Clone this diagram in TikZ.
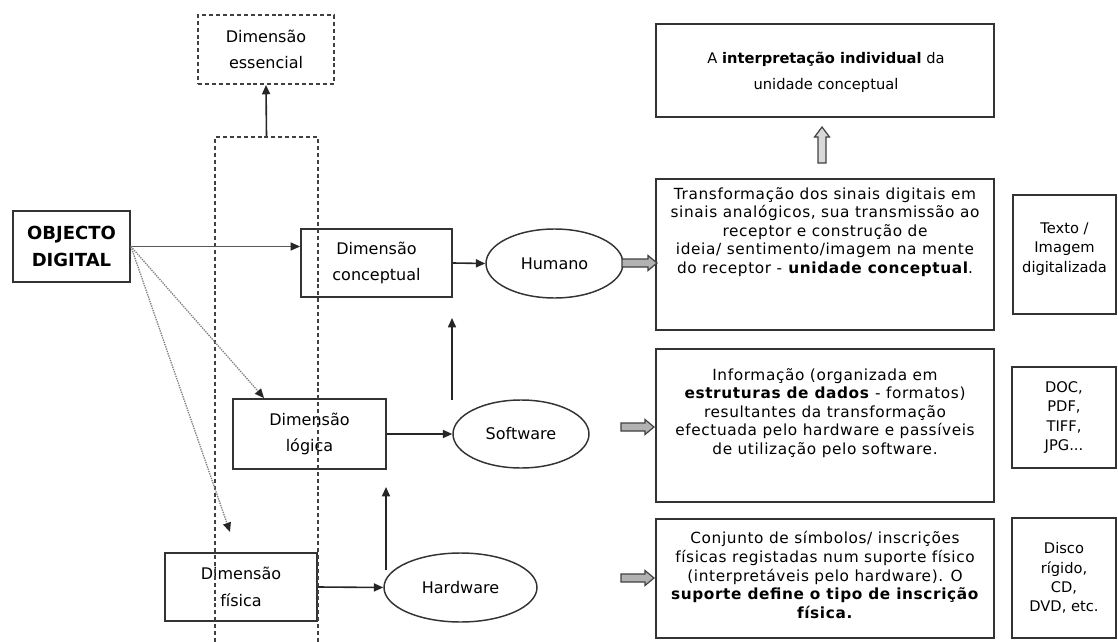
\documentclass[tikz,border=0pt]{standalone}
\usepackage{fontspec}
\setmainfont{DejaVu Sans}
\newfontfamily\descfont[LetterSpace=4]{DejaVu Sans}
\usetikzlibrary{arrows.meta,calc,shapes.geometric}
\begin{document}
\begin{tikzpicture}[x=0.75pt,y=-0.75pt,
  every node/.style={inner sep=0pt, text=black},
  lbl/.style={font=\fontsize{12}{20}\selectfont, align=center},
  box/.style={draw=black!80, line width=1.4pt, rectangle, align=center},
  dbox/.style={draw=black!75, line width=1.4pt, rectangle, dash pattern=on 3pt off 2.2pt},
  oval/.style={draw=black!80, line width=1.1pt, ellipse, font=\fontsize{12}{14}\selectfont},
  desc/.style={font=\descfont\fontsize{11.5}{13.9}\selectfont, align=center},
  side/.style={font=\fontsize{11}{14.4}\selectfont, align=center},
  arr/.style={draw=black!85, line width=1.2pt, -{Triangle[length=7pt,width=6pt]}},
  thinarr/.style={draw=black!65, line width=0.7pt, -{Triangle[length=7pt,width=6pt,color=black!85,fill=black!85]}},
  dotarr/.style={draw=black!50, line width=1pt, dash pattern=on 1pt off 0.8pt, -{Triangle[length=7pt,width=6pt,color=black!85,fill=black!85]}},
  fat/.style={draw=black!75, fill=black!30, line width=0.9pt, line join=miter}
]
\useasboundingbox (0,0) rectangle (1118,642);
\clip (0,0) rectangle (1118,642);

% left part
\node[dbox, lbl, minimum width=102pt, minimum height=51.75pt] (ess) at (266,49.5) {Dimensão\\essencial};
\node[box, font=\bfseries\fontsize{13.5}{20}\selectfont, minimum width=87.75pt, minimum height=53.25pt] (obj) at (71.5,246.5) {OBJECTO\\DIGITAL};
\node[box, lbl, minimum width=113.25pt, minimum height=51pt] (conc) at (376.5,263) {Dimensão\\conceptual};
\node[box, lbl, minimum width=114.75pt, minimum height=52.5pt] (log) at (309.5,434) {Dimensão\\lógica};
\node[box, lbl, minimum width=114pt, minimum height=51pt] (fis) at (241,587) {Dimensão\\física};

\node[oval, minimum width=102.75pt, minimum height=51.75pt] (hum) at (554.5,263.5) {Humano};
\node[oval, minimum width=102pt, minimum height=51pt] (soft) at (521,434) {Software};
\node[oval, minimum width=114.75pt, minimum height=51.75pt] (hard) at (460.5,587.5) {Hardware};

% description boxes
\node[box, minimum width=253.5pt, minimum height=69.75pt] (top) at (825,70.5) {};
\node[font=\fontsize{11}{19.5}\selectfont, align=center] (topT) at (826,72) {A \textbf{interpretação individual} da\\unidade conceptual};

\node[box, minimum width=253.5pt, minimum height=113.25pt] (trans) at (825,254.5) {};
\node[desc] (transT) at (825,232) {Transformação dos sinais digitais em\\sinais analógicos, sua transmissão ao\\receptor e construção de\\ideia/ sentimento/imagem na mente\\do receptor - \textbf{unidade conceptual}.};

\node[box, minimum width=253.5pt, minimum height=114.75pt] (info) at (825,425.5) {};
\node[desc] (infoT) at (825,413) {Informação (organizada em\\\textbf{estruturas de dados} - formatos)\\resultantes da transformação\\efectuada pelo hardware e passíveis\\de utilização pelo  software.};

\node[box, minimum width=253.5pt, minimum height=89.25pt] (conj) at (825,578.5) {};
\node[desc] (conjT) at (825,575) {Conjunto de símbolos/ inscrições\\físicas registadas num suporte físico\\(interpretáveis pelo hardware). O\\\textbf{suporte define o tipo de inscrição}\\\textbf{física.}};

% side boxes
\node[box, side, minimum width=77.25pt, minimum height=89.25pt] (texto) at (1064.5,254.5) {};
\node[side] (textoT) at (1064.5,249) {Texto /\\Imagem\\digitalizada};
\node[box, side, minimum width=78pt, minimum height=75.75pt] (doc) at (1064,417.5) {DOC,\\PDF,\\TIFF,\\JPG...};
\node[box, side, minimum width=78pt, minimum height=90pt] (disco) at (1064,578) {Disco\\rígido,\\CD,\\DVD, etc.};

% tall dashed column
\node[dbox, anchor=north, minimum width=77.25pt, minimum height=390pt] (tall) at (266.5,136) {};

% connectors
\draw[arr] (tall.north) -- (ess.south);
\draw[thinarr] (obj.east) -- (obj.east -| conc.west);
\coordinate (logtop) at ($(log.north west)+(32,0)$);
\coordinate (dotend) at (230,532);
\draw[dotarr] (obj.east) -- (logtop);
\draw[dotarr] (obj.east) -- (dotend);
\draw[arr] (conc.east) -- (hum.west);
\draw[arr] (log.east) -- (soft.west);
\draw[arr] (fis.east) -- (hard.west);
\coordinate (v1s) at (452,400);
\coordinate (v1e) at (452,318);
\draw[arr] (v1s) -- (v1e);
\coordinate (v2s) at (386,570);
\coordinate (v2e) at (386,487);
\draw[arr] (v2s) -- (v2e);

% fat arrows
\draw[fat, shift={(622,263)}] (0,-4) -- (26,-4) -- (26,-7.5) -- (35,0) -- (26,7.5) -- (26,4) -- (0,4) -- cycle;
\draw[fat, shift={(621,427)}] (0,-4) -- (24,-4) -- (24,-7.5) -- (33,0) -- (24,7.5) -- (24,4) -- (0,4) -- cycle;
\draw[fat, shift={(621,578)}] (0,-4) -- (24,-4) -- (24,-7.5) -- (33,0) -- (24,7.5) -- (24,4) -- (0,4) -- cycle;
\draw[fat, fill=black!15, shift={(822,0)}] (-4,163) -- (-4,137) -- (-7.5,137) -- (0,127) -- (7.5,137) -- (4,137) -- (4,163) -- cycle;
\end{tikzpicture}
\end{document}
